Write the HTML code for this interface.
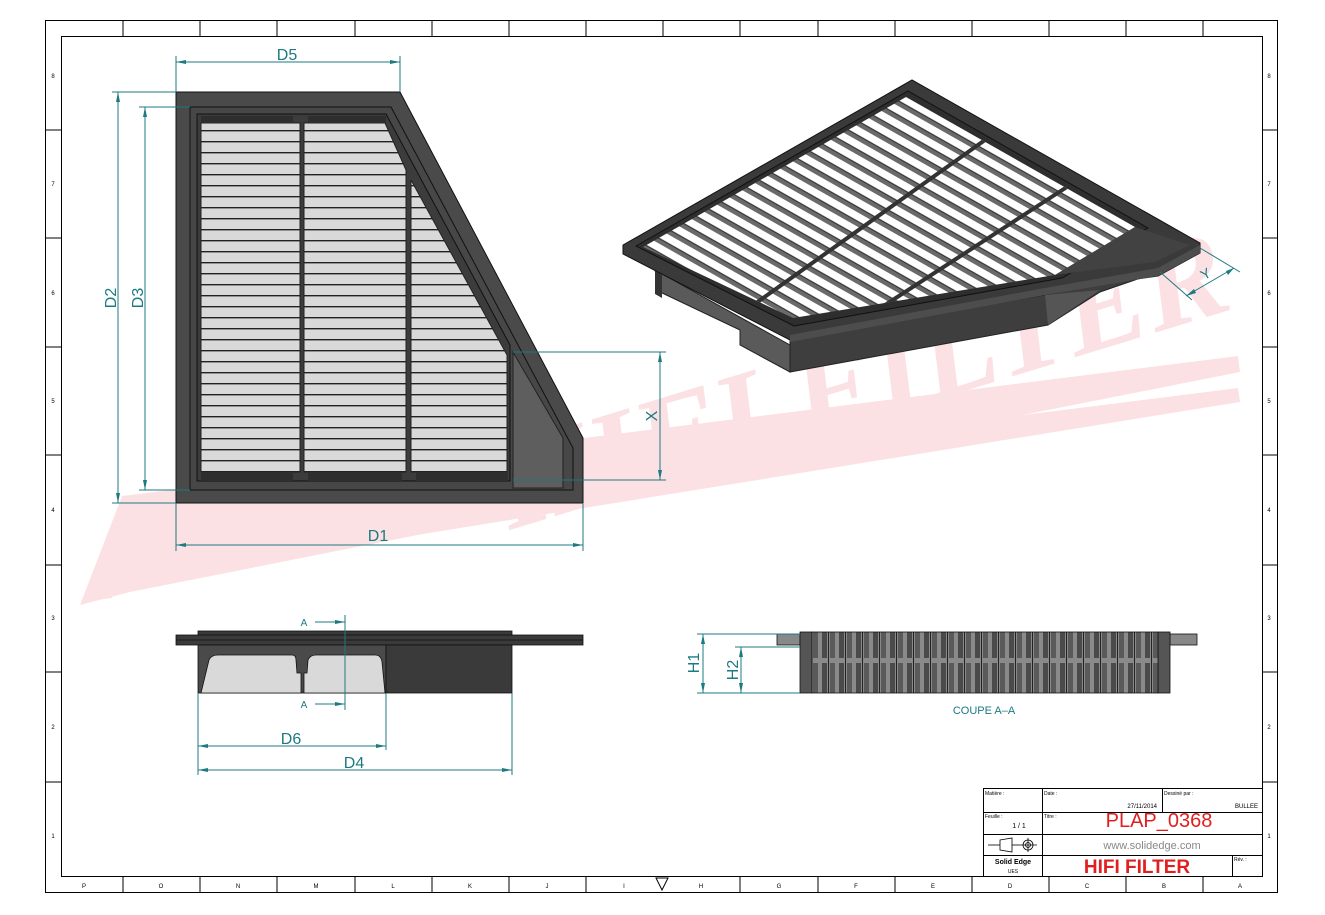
<!DOCTYPE html>
<html><head><meta charset="utf-8"><style>
html,body{margin:0;padding:0;background:#fff;}
svg{display:block;font-family:"Liberation Sans",sans-serif;}
</style></head><body>
<svg width="1325" height="915" viewBox="0 0 1325 915" xmlns="http://www.w3.org/2000/svg">
<defs>
<pattern id="slat" width="20" height="11" patternUnits="userSpaceOnUse" y="0">
<rect width="20" height="11" fill="#d9d9d9"/><rect y="9" width="20" height="1.4" fill="#222"/>
</pattern>
<pattern id="grid3d" width="10" height="12.5" patternUnits="userSpaceOnUse" patternTransform="rotate(29.5)">
<rect width="10" height="12.5" fill="#fff"/><rect y="8" width="10" height="4.5" fill="#6a6a6a"/><rect y="7.3" width="10" height="1" fill="#222"/>
</pattern>
<pattern id="pleat" width="17" height="60" patternUnits="userSpaceOnUse" x="803">
<rect width="17" height="60" fill="#8a8a8a"/><rect x="2" y="3" width="5" height="55" fill="#4a4a4a"/><rect x="10" y="3" width="5" height="55" fill="#5a5a5a"/><rect x="8" width="1" height="60" fill="#222"/>
</pattern>
<clipPath id="gc"><polygon points="643,247 906,97 1135,227 1055,275 793,318"/></clipPath>
</defs>

<!-- watermark -->
<g opacity="0.2" fill="#ee6f7c">
<polygon points="80,605 122,496 1238,356 1240,372 130,592"/>
<polygon points="150,580 172,522 1238,388 1240,402 188,572"/>
<polygon points="96,600 132,505 148,504 112,598"/>
<text x="0" y="0" transform="translate(510,530) rotate(-17)" font-size="125" font-weight="bold" font-style="italic" font-family="Liberation Serif,serif">HIFI FILTER</text>
</g>

<!-- frame -->
<rect x="45.5" y="20.5" width="1232" height="872" fill="none" stroke="#000" stroke-width="1"/>
<rect x="61.5" y="36.5" width="1201" height="840" fill="none" stroke="#000" stroke-width="1"/>
<g stroke="#000" stroke-width="1">
<line x1="123" y1="20" x2="123" y2="36"/><line x1="200" y1="20" x2="200" y2="36"/><line x1="277" y1="20" x2="277" y2="36"/><line x1="355" y1="20" x2="355" y2="36"/><line x1="432" y1="20" x2="432" y2="36"/><line x1="509" y1="20" x2="509" y2="36"/><line x1="586" y1="20" x2="586" y2="36"/><line x1="663" y1="20" x2="663" y2="36"/><line x1="740" y1="20" x2="740" y2="36"/><line x1="818" y1="20" x2="818" y2="36"/><line x1="895" y1="20" x2="895" y2="36"/><line x1="972" y1="20" x2="972" y2="36"/><line x1="1049" y1="20" x2="1049" y2="36"/><line x1="1126" y1="20" x2="1126" y2="36"/><line x1="1203" y1="20" x2="1203" y2="36"/>
<line x1="123" y1="876" x2="123" y2="892"/><line x1="200" y1="876" x2="200" y2="892"/><line x1="277" y1="876" x2="277" y2="892"/><line x1="355" y1="876" x2="355" y2="892"/><line x1="432" y1="876" x2="432" y2="892"/><line x1="509" y1="876" x2="509" y2="892"/><line x1="586" y1="876" x2="586" y2="892"/><line x1="740" y1="876" x2="740" y2="892"/><line x1="818" y1="876" x2="818" y2="892"/><line x1="895" y1="876" x2="895" y2="892"/><line x1="972" y1="876" x2="972" y2="892"/><line x1="1049" y1="876" x2="1049" y2="892"/><line x1="1126" y1="876" x2="1126" y2="892"/><line x1="1203" y1="876" x2="1203" y2="892"/>
<line x1="45" y1="130" x2="61" y2="130"/><line x1="45" y1="238" x2="61" y2="238"/><line x1="45" y1="347" x2="61" y2="347"/><line x1="45" y1="455" x2="61" y2="455"/><line x1="45" y1="565" x2="61" y2="565"/><line x1="45" y1="672" x2="61" y2="672"/><line x1="45" y1="782" x2="61" y2="782"/>
<line x1="1262" y1="130" x2="1277" y2="130"/><line x1="1262" y1="238" x2="1277" y2="238"/><line x1="1262" y1="347" x2="1277" y2="347"/><line x1="1262" y1="455" x2="1277" y2="455"/><line x1="1262" y1="565" x2="1277" y2="565"/><line x1="1262" y1="672" x2="1277" y2="672"/><line x1="1262" y1="782" x2="1277" y2="782"/>
</g>
<g font-size="6" fill="#000" text-anchor="middle">
<text x="84" y="888">P</text><text x="161" y="888">O</text><text x="238" y="888">N</text><text x="316" y="888">M</text><text x="393" y="888">L</text><text x="470" y="888">K</text><text x="547" y="888">J</text><text x="624" y="888">I</text><text x="701" y="888">H</text><text x="779" y="888">G</text><text x="856" y="888">F</text><text x="933" y="888">E</text><text x="1010" y="888">D</text><text x="1087" y="888">C</text><text x="1164" y="888">B</text><text x="1240" y="888">A</text>
<text x="1269" y="78">8</text><text x="1269" y="186">7</text><text x="1269" y="295">6</text><text x="1269" y="403">5</text><text x="1269" y="512">4</text><text x="1269" y="620">3</text><text x="1269" y="729">2</text><text x="1269" y="838">1</text>
<text x="53" y="78">8</text><text x="53" y="186">7</text><text x="53" y="295">6</text><text x="53" y="403">5</text><text x="53" y="512">4</text><text x="53" y="620">3</text><text x="53" y="729">2</text><text x="53" y="838">1</text>
</g>
<polygon points="656,878 668,878 662,890" fill="none" stroke="#000"/>

<!-- front view -->
<polygon points="176,92 400,92 583,438 583,503 176,503" fill="#4a4a4a" stroke="#111"/>
<polygon points="190,107 391,107 573,448 573,490 190,490" fill="#474747" stroke="#111"/>
<polygon points="197,114 386,114 510,345 510,481 197,481" fill="#3c3c3c" stroke="#111"/>
<polygon points="513,352 563,438 563,488 513,488" fill="#5e5e5e" stroke="#222"/>
<rect x="201" y="123" width="99" height="349" fill="url(#slat)" stroke="#222"/>
<polygon points="304,123 385,123 406,170 406,472 304,472" fill="url(#slat)" stroke="#222"/>
<polygon points="411,180 507,355 507,472 411,472" fill="url(#slat)" stroke="#222"/>
<rect x="201" y="116" width="92" height="7" fill="#2e2e2e"/><rect x="308" y="116" width="78" height="7" fill="#2e2e2e"/>
<rect x="201" y="473" width="92" height="8" fill="#2e2e2e"/><rect x="308" y="473" width="94" height="8" fill="#2e2e2e"/><rect x="416" y="473" width="92" height="8" fill="#2e2e2e"/>

<!-- dims front -->
<g stroke="#1c7a80" stroke-width="1" fill="none">
<line x1="176" y1="56" x2="176" y2="92"/><line x1="400" y1="56" x2="400" y2="92"/><line x1="176" y1="62" x2="400" y2="62"/>
<line x1="112" y1="92" x2="176" y2="92"/><line x1="112" y1="503" x2="176" y2="503"/><line x1="118" y1="92" x2="118" y2="503"/>
<line x1="139" y1="107" x2="190" y2="107"/><line x1="139" y1="490" x2="190" y2="490"/><line x1="145" y1="107" x2="145" y2="490"/>
<line x1="176" y1="503" x2="176" y2="551"/><line x1="583" y1="503" x2="583" y2="551"/><line x1="176" y1="545" x2="583" y2="545"/>
<line x1="513" y1="352" x2="666" y2="352"/><line x1="513" y1="480" x2="666" y2="480"/><line x1="660" y1="352" x2="660" y2="480"/>
</g>
<g fill="#1c7a80">
<polygon points="176,62 186,60 186,64"/><polygon points="400,62 390,60 390,64"/>
<polygon points="118,92 116,102 120,102"/><polygon points="118,503 116,493 120,493"/>
<polygon points="145,107 143,117 147,117"/><polygon points="145,490 143,480 147,480"/>
<polygon points="176,545 186,543 186,547"/><polygon points="583,545 573,543 573,547"/>
<polygon points="660,352 658,362 662,362"/><polygon points="660,480 658,470 662,470"/>
</g>
<g fill="#1c7a80" font-size="16">
<text x="287" y="60" text-anchor="middle">D5</text>
<text x="378" y="541" text-anchor="middle">D1</text>
<text transform="translate(116,298) rotate(-90)" text-anchor="middle">D2</text>
<text transform="translate(143,298) rotate(-90)" text-anchor="middle">D3</text>
<text transform="translate(657,416) rotate(-90)" text-anchor="middle">X</text>
</g>

<!-- 3D view -->
<polygon points="655,270 790,345 790,372 740,345 740,330 660,292" fill="#5a5a5a" stroke="#222"/>
<polygon points="655,270 662,275 662,298 655,294" fill="#333"/>
<polygon points="790,338 1045,295 1158,272 1100,292 1048,325 790,372" fill="#3e3e3e" stroke="#222"/>
<polygon points="1045,295 1100,290 1048,325" fill="#555"/>
<polygon points="623,245 912,80 1200,243 1200,253 1158,276 1045,292 790,340 623,254" fill="#3a3a3a" stroke="#111"/>
<polygon points="790,335 1045,288 1158,268 1200,245 1200,253 1158,276 1045,295 790,342" fill="#4d4d4d"/>
<polygon points="636,246 908,91 1148,228 1062,278 794,326" fill="#2e2e2e" stroke="#111"/>
<polygon points="643,247 906,97 1135,227 1055,275 793,318" fill="url(#grid3d)"/>
<g clip-path="url(#gc)" stroke="#333" stroke-width="4">
<line x1="735" y1="318" x2="985" y2="140"/><line x1="865" y1="318" x2="1070" y2="185"/>
</g>
<polygon points="1055,275 1135,227 1190,245 1155,262" fill="#424242"/>
<g stroke="#1c7a80" fill="none"><line x1="1160" y1="272" x2="1192" y2="300"/><line x1="1200" y1="248" x2="1240" y2="272"/><line x1="1186" y1="296" x2="1234" y2="268"/></g>
<g fill="#1c7a80"><polygon points="1186,296 1194,289 1196,293"/><polygon points="1234,268 1226,271 1228,275"/>
<text transform="translate(1208,278) rotate(-30)" font-size="14" text-anchor="middle">Y</text></g>

<!-- side view -->
<rect x="198" y="631" width="314" height="4" fill="#3a3a3a" stroke="#111" stroke-width="0.8"/>
<rect x="176" y="635" width="407" height="10" fill="#3a3a3a" stroke="#111" stroke-width="0.8"/>
<line x1="176" y1="640" x2="583" y2="640" stroke="#111" stroke-width="0.8"/>
<rect x="198" y="645" width="188" height="48" fill="#4a4a4a" stroke="#111" stroke-width="0.8"/>
<rect x="386" y="645" width="126" height="48" fill="#3a3a3a" stroke="#111" stroke-width="0.8"/>
<path d="M201,693 L209,660 Q211,655 218,655 L292,655 Q296,655 296,660 L297,673 L301,673 L301,693 Z" fill="#d9d9d9" stroke="#111" stroke-width="0.8"/>
<path d="M304,693 L304,673 L307,673 L308,660 Q310,655 316,655 L375,655 Q381,655 382,662 L385,693 Z" fill="#d9d9d9" stroke="#111" stroke-width="0.8"/>
<g stroke="#1c7a80" fill="none">
<line x1="345" y1="615" x2="345" y2="710"/><line x1="315" y1="622" x2="345" y2="622"/><line x1="315" y1="704" x2="345" y2="704"/>
<line x1="198" y1="693" x2="198" y2="775"/><line x1="386" y1="693" x2="386" y2="750"/><line x1="512" y1="693" x2="512" y2="775"/>
<line x1="198" y1="746" x2="386" y2="746"/><line x1="198" y1="770" x2="512" y2="770"/>
</g>
<g fill="#1c7a80">
<polygon points="345,622 335,620 335,624"/><polygon points="345,704 335,702 335,706"/>
<polygon points="198,746 208,744 208,748"/><polygon points="386,746 376,744 376,748"/>
<polygon points="198,770 208,768 208,772"/><polygon points="512,770 502,768 502,772"/>
<text x="304" y="626" font-size="10" text-anchor="middle">A</text><text x="304" y="708" font-size="10" text-anchor="middle">A</text>
<text x="291" y="744" font-size="16" text-anchor="middle">D6</text><text x="354" y="768" font-size="16" text-anchor="middle">D4</text>
</g>

<!-- section A-A -->
<rect x="777" y="634" width="23" height="11" fill="#888" stroke="#111" stroke-width="0.8"/>
<rect x="1170" y="634" width="27" height="11" fill="#888" stroke="#111" stroke-width="0.8"/>
<rect x="800" y="632" width="12" height="61" fill="#555" stroke="#111" stroke-width="0.8"/>
<rect x="1158" y="632" width="12" height="61" fill="#555" stroke="#111" stroke-width="0.8"/>
<rect x="812" y="632" width="346" height="61" fill="url(#pleat)" stroke="#111" stroke-width="0.8"/>
<g stroke="#1c7a80" fill="none">
<line x1="697" y1="634" x2="800" y2="634"/><line x1="697" y1="693" x2="800" y2="693"/><line x1="703" y1="634" x2="703" y2="693"/>
<line x1="735" y1="647" x2="800" y2="647"/><line x1="741" y1="647" x2="741" y2="693"/>
</g>
<g fill="#1c7a80">
<polygon points="703,634 701,644 705,644"/><polygon points="703,693 701,683 705,683"/>
<polygon points="741,647 739,657 743,657"/><polygon points="741,693 739,683 743,683"/>
<text transform="translate(699,663) rotate(-90)" font-size="16" text-anchor="middle">H1</text>
<text transform="translate(738,670) rotate(-90)" font-size="16" text-anchor="middle">H2</text>
<text x="984" y="714" font-size="11" text-anchor="middle">COUPE A–A</text>
</g>

<!-- title block -->
<g stroke="#000" stroke-width="1" fill="none">
<rect x="983.5" y="788.5" width="279" height="88"/>
<line x1="983" y1="812.5" x2="1263" y2="812.5"/><line x1="983" y1="834.5" x2="1263" y2="834.5"/><line x1="983" y1="855.5" x2="1263" y2="855.5"/>
<line x1="1042.5" y1="788" x2="1042.5" y2="876"/><line x1="1162.5" y1="788" x2="1162.5" y2="812"/><line x1="1232.5" y1="855" x2="1232.5" y2="876"/>
</g>
<g font-size="5" fill="#000">
<text x="985" y="795">Matière :</text><text x="1044" y="795">Date :</text><text x="1164" y="795">Dessiné par :</text>
<text x="985" y="818">Feuille :</text><text x="1044" y="818">Titre :</text><text x="1234" y="861">Rév. :</text>
<text x="1157" y="808" font-size="6" text-anchor="end">27/11/2014</text><text x="1258" y="808" font-size="6" text-anchor="end">BULLEE</text>
<text x="1019" y="828" font-size="7" text-anchor="middle">1 / 1</text>
<text x="1013" y="864" font-size="7" font-weight="bold" text-anchor="middle">Solid Edge</text><text x="1013" y="873" font-size="5" text-anchor="middle">UES</text>
</g>
<g stroke="#000" fill="none" stroke-width="0.8"><line x1="988" y1="845" x2="1000" y2="845"/><polygon points="1000,840 1012,838 1012,852 1000,850"/><line x1="1012" y1="845" x2="1020" y2="845"/><circle cx="1028" cy="845" r="5"/><circle cx="1028" cy="845" r="2.5"/><line x1="1028" y1="838" x2="1028" y2="852"/><line x1="1020" y1="845" x2="1037" y2="845"/></g>
<text x="1159" y="827" font-size="20" fill="#e02020" text-anchor="middle">PLAP_0368</text>
<text x="1152" y="849" font-size="11" fill="#888" text-anchor="middle">www.solidedge.com</text>
<text x="1137" y="873" font-size="19" font-weight="bold" fill="#e02020" text-anchor="middle">HIFI FILTER</text>
</svg>
</body></html>
